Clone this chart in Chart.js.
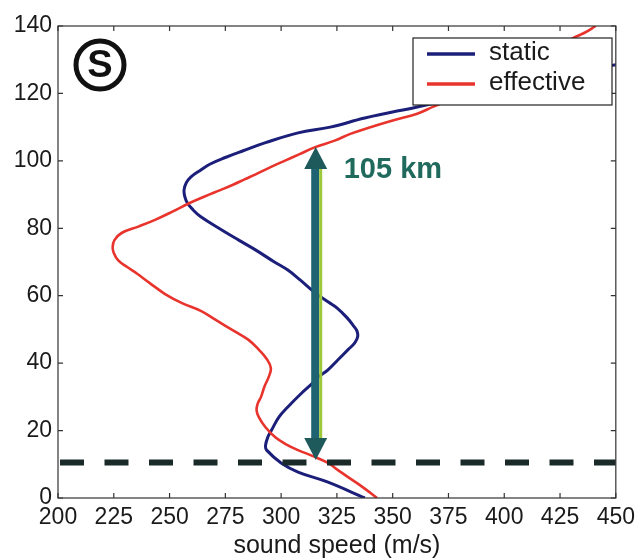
<!DOCTYPE html>
<html>
<head>
<meta charset="utf-8">
<script src="https://cdn.jsdelivr.net/npm/chart.js@4.4.1/dist/chart.umd.min.js"></script>
<style>
  html, body { margin: 0; padding: 0; background: #ffffff; }
  #wrap { width: 641px; height: 559px; position: relative; }
</style>
</head>
<body>
<div id="wrap"><canvas id="c" width="641" height="559"></canvas></div>
<script>
// ---- data ----
const staticAlt   = [0, 4.7, 7.7, 10.4, 14.2, 15.5, 18, 20, 24, 27, 31, 34, 36, 38, 41, 44, 46, 47.8, 49.5, 51, 53.5, 56.4, 58, 61, 64.7, 67.6, 70, 73.6, 76.5, 79.5, 83.4, 85.5, 87.5, 89.5, 91.4, 93.5, 95.2, 97.3, 99, 101, 103, 105.4, 108.3, 110, 112.7, 116, 118, 120, 122, 124, 126, 128, 128.5];
const staticSpeed = [337.5, 321, 307.6, 300, 293.5, 293, 294, 295.6, 299, 303, 309, 314, 317, 321, 325.5, 330, 333, 334.3, 334, 332.5, 329.5, 325, 321.5, 315, 308.5, 303, 297, 288.5, 281, 273.4, 264, 260.5, 258, 256.8, 256.5, 257.5, 259.5, 264, 268, 275, 283, 293, 307.6, 322, 337.5, 361, 375, 389, 403, 417.5, 432, 446, 450];

const effectiveAlt   = [0, 3, 6.2, 8.5, 10.4, 12.5, 14.2, 16, 18, 21, 24, 26, 28, 30, 33, 36, 38.5, 41, 44, 46.9, 49.5, 52.8, 55.5, 57.8, 60.5, 63.8, 66.5, 68.5, 70.5, 72.7, 74.5, 76.5, 78.6, 80.5, 82.5, 85, 87.5, 89.5, 91.4, 93, 94.5, 96, 98.2, 100, 102, 104, 106, 108, 110, 112, 114, 116, 118, 120, 122, 124, 126, 128, 130, 132, 134, 136.5, 138, 140];
const effectiveSpeed = [343, 337, 330, 325, 321, 314, 307.6, 302, 297.4, 293, 290, 289, 289.5, 291, 292.5, 294.5, 295.4, 293.8, 290, 285.4, 279, 270.7, 264, 255.6, 248, 241, 235.5, 231, 227, 225, 224.5, 225.3, 228.5, 236, 243.5, 251.5, 259, 266, 273, 278.7, 283.6, 288.6, 295.5, 301.5, 308.3, 315, 324, 331, 340, 350, 361, 368, 375, 381.5, 388, 394.5, 401, 407, 413, 418.5, 424, 431, 436, 441];

const seriesLabels = ['static', 'effective'];
const xTickValues = [200, 225, 250, 275, 300, 325, 350, 375, 400, 425, 450];
const yTickValues = [0, 20, 40, 60, 80, 100, 120, 140];
const xTitle = 'sound speed (m/s)';

const dashedAltitude = 10.5;       // km, horizontal dashed line
const arrowSpeed = 315.5;          // m/s, arrow position
const arrowBottomAlt = 11.3;       // km
const arrowTopAlt = 104.1;         // km
const arrowLabel = '105 km';
const panelLetter = 'S';

// ---- styling ----
const FONT = '"Liberation Sans", Arial, Helvetica, sans-serif';
Chart.defaults.font.family = FONT;
const BLUE = '#1c1f7a';
const RED = '#e8342c';
const TEXT = '#1a1a1a';

const toPts = (xs, ys) => xs.map((x, i) => ({ x: x, y: ys[i] }));

const frameAndDecor = {
  id: 'frameAndDecor',
  afterDatasetsDraw(chart) {
    const { ctx, chartArea: a, scales: { x, y } } = chart;
    ctx.save();
    // frame
    ctx.strokeStyle = '#333333';
    ctx.lineWidth = 1.2;
    ctx.strokeRect(a.left, a.top, a.right - a.left, a.bottom - a.top);
    // inward ticks on all sides
    const tl = 5;
    ctx.beginPath();
    xTickValues.forEach(v => {
      const px = x.getPixelForValue(v);
      ctx.moveTo(px, a.bottom); ctx.lineTo(px, a.bottom - tl);
      ctx.moveTo(px, a.top); ctx.lineTo(px, a.top + tl);
    });
    yTickValues.forEach(v => {
      const py = y.getPixelForValue(v);
      ctx.moveTo(a.left, py); ctx.lineTo(a.left + tl, py);
      ctx.moveTo(a.right, py); ctx.lineTo(a.right - tl, py);
    });
    ctx.stroke();

    // arrow
    const ax = x.getPixelForValue(arrowSpeed);
    const yb = y.getPixelForValue(arrowBottomAlt);
    const yt = y.getPixelForValue(arrowTopAlt);
    const headH = 22, headW = 23;
    ctx.fillStyle = '#1f6272';
    ctx.fillRect(ax - 4.5, yt + headH - 1, 8, (yb - headH) - (yt + headH) + 2);
    ctx.fillStyle = '#9cc83a';
    ctx.fillRect(ax + 3.5, yt + headH - 1, 3, (yb - headH) - (yt + headH) + 2);
    ctx.fillStyle = '#1e5a5c';
    ctx.beginPath();
    ctx.moveTo(ax, yt);
    ctx.lineTo(ax + headW / 2, yt + headH);
    ctx.lineTo(ax - headW / 2, yt + headH);
    ctx.closePath();
    ctx.fill();
    ctx.beginPath();
    ctx.moveTo(ax, yb);
    ctx.lineTo(ax + headW / 2, yb - headH);
    ctx.lineTo(ax - headW / 2, yb - headH);
    ctx.closePath();
    ctx.fill();

    // arrow label
    ctx.fillStyle = '#1f6a5c';
    ctx.font = 'bold 29px ' + FONT;
    ctx.textAlign = 'left';
    ctx.textBaseline = 'middle';
    ctx.fillText(arrowLabel, ax + 28, yt + 23);

    // circled panel letter
    const cx = a.left + 42, cy = a.top + 39;
    ctx.strokeStyle = '#111111';
    ctx.lineWidth = 5;
    ctx.beginPath();
    ctx.arc(cx, cy, 24, 0, Math.PI * 2);
    ctx.stroke();
    ctx.fillStyle = '#111111';
    ctx.font = 'bold 38px ' + FONT;
    ctx.textAlign = 'center';
    ctx.textBaseline = 'middle';
    ctx.fillText(panelLetter, cx, cy + 2);

    // legend box
    const lx = a.left + 355, ly = a.top + 12, lw = 199, lh = 67;
    ctx.fillStyle = '#ffffff';
    ctx.fillRect(lx, ly, lw, lh);
    ctx.strokeStyle = '#222222';
    ctx.lineWidth = 1.2;
    ctx.strokeRect(lx, ly, lw, lh);
    ctx.font = '26px ' + FONT;
    ctx.textAlign = 'left';
    ctx.textBaseline = 'middle';
    chart.data.datasets.slice(0, 2).forEach((ds, i) => {
      const rowY = ly + 16 + i * 30;
      ctx.strokeStyle = ds.borderColor;
      ctx.lineWidth = 3.5;
      ctx.beginPath();
      ctx.moveTo(lx + 14, rowY);
      ctx.lineTo(lx + 62, rowY);
      ctx.stroke();
      ctx.fillStyle = TEXT;
      ctx.fillText(ds.label, lx + 76, rowY - 1);
    });
    ctx.restore();
  }
};

new Chart(document.getElementById('c'), {
  type: 'scatter',
  data: {
    datasets: [
      { label: seriesLabels[0], data: toPts(staticSpeed, staticAlt), showLine: true,
        borderColor: BLUE, borderWidth: 3, pointRadius: 0, tension: 0.4, order: 2 },
      { label: seriesLabels[1], data: toPts(effectiveSpeed, effectiveAlt), showLine: true,
        borderColor: RED, borderWidth: 2.6, pointRadius: 0, tension: 0.4, order: 1 },
      { label: 'ground level', data: [{ x: xTickValues[0], y: dashedAltitude }, { x: xTickValues[xTickValues.length - 1], y: dashedAltitude }],
        showLine: true, borderColor: '#1a2a28', borderWidth: 6, borderDash: [24, 20.5], borderDashOffset: -2,
        pointRadius: 0, order: 0 }
    ]
  },
  options: {
    responsive: false,
    animation: false,
    events: [],
    layout: { padding: { top: 26, right: 21, left: 0, bottom: 0 } },
    plugins: { legend: { display: false }, tooltip: { enabled: false } },
    scales: {
      x: {
        type: 'linear', position: 'bottom', min: 200, max: 450,
        afterBuildTicks: s => { s.ticks = xTickValues.map(v => ({ value: v })); },
        afterFit: s => { s.height = 61; },
        grid: { display: false, drawTicks: false },
        border: { display: false },
        ticks: { color: TEXT, font: { size: 23 }, padding: 6, maxRotation: 0, autoSkip: false },
        title: { display: true, text: xTitle, color: TEXT, font: { size: 25, lineHeight: 1 }, padding: { top: 0, bottom: 0 } }
      },
      y: {
        type: 'linear', position: 'left', min: 0, max: 140,
        afterBuildTicks: s => { s.ticks = yTickValues.map(v => ({ value: v })); },
        afterFit: s => { s.width = 58; },
        grid: { display: false, drawTicks: false },
        border: { display: false },
        ticks: { color: TEXT, font: { size: 23 }, padding: 6, autoSkip: false }
      }
    }
  },
  plugins: [frameAndDecor]
});
</script>
</body>
</html>
